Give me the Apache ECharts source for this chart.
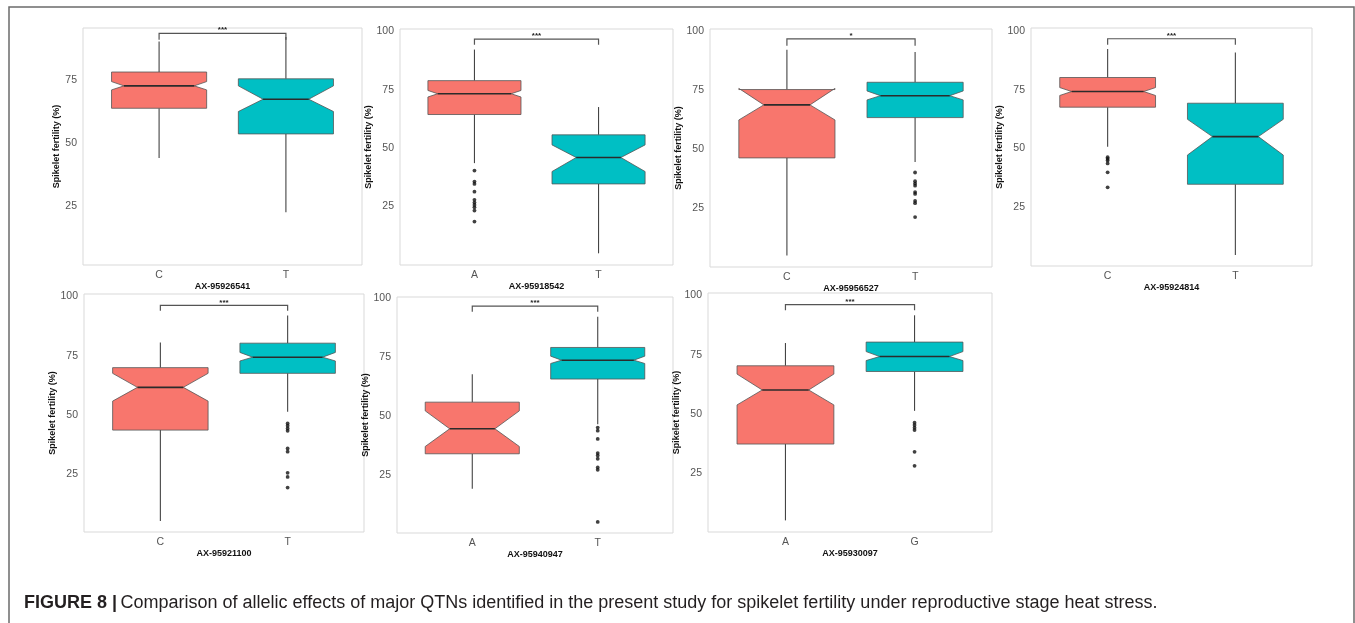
<!DOCTYPE html>
<html><head><meta charset="utf-8">
<script src="https://cdn.jsdelivr.net/npm/echarts@6/dist/echarts.min.js"></script>
<style>html,body{margin:0;padding:0;background:#fff;}#c{width:1355px;height:623px;}</style>
</head><body><div id="c"></div>
<script>
// ---------- DATA ----------
const markerNames = ['AX-95926541','AX-95918542','AX-95956527','AX-95924814','AX-95921100','AX-95940947','AX-95930097'];
const alleleLabels = [['C','T'],['A','T'],['C','T'],['C','T'],['C','T'],['A','T'],['A','G']];
const yTickValues = [[25,50,75],[25,50,75,100],[25,50,75,100],[25,50,75,100],[25,50,75,100],[25,50,75,100],[25,50,75,100]];
const yAxisMin = [1.4, 0, 0, -0.4, 0.8, 0.3, 0.3];
const yAxisMax = [95.6, 101, 101, 101.5, 101, 100.4, 101.1];
// box stats: [whiskerLow, Q1, notchLow, median, notchHigh, Q3, whiskerHigh]
const boxesAX95926541 = [[43.9,63.7,71.0,72.6,74.3,78.1,90.2],[22.4,53.5,62.4,67.3,72.6,75.4,92.0]];
const boxesAX95918542 = [[43.6,64.4,71.9,73.3,74.7,78.9,92.2],[5.0,34.7,40.0,46.0,51.4,55.7,67.6]];
const boxesAX95956527 = [[4.9,46.3,62.4,68.8,75.8,75.3,92.2],[44.6,63.4,70.9,72.7,74.7,78.4,91.2]];
const boxesAX95924814 = [[50.7,67.6,72.6,74.3,76.0,80.3,92.5],[4.3,34.6,47.1,55.0,62.4,69.3,91.0]];
const boxesAX95921100 = [[5.4,43.7,55.9,61.7,67.6,70.0,80.6],[51.4,67.6,72.8,74.4,76.4,80.3,92.0]];
const boxesAX95940947 = [[19.1,33.9,37.0,44.5,52.1,55.8,67.6],[46.4,65.6,72.2,73.6,75.3,79.0,92.0]];
const boxesAX95930097 = [[5.2,37.4,53.9,60.2,66.9,70.4,80.0],[51.4,68.0,72.6,74.3,76.4,80.4,91.7]];
// outliers per allele
const outliersAX95926541 = [[],[]];
const outliersAX95918542 = [[40.4,35.7,34.7,31.4,27.9,26.7,25.7,24.7,23.3,18.6],[]];
const outliersAX95956527 = [[],[40.1,36.4,35.4,34.5,31.8,31.0,28.0,27.1,21.2]];
const outliersAX95924814 = [[46.2,45.5,44.8,43.5,39.7,33.3],[]];
const outliersAX95921100 = [[],[46.5,45.5,44.4,43.4,36.0,34.6,25.7,24.0,19.5]];
const outliersAX95940947 = [[],[45.0,43.7,40.2,34.2,33.2,31.8,28.1,27.1,5.0]];
const outliersAX95930097 = [[],[46.4,45.4,44.3,43.3,34.1,28.2]];
// significance brackets: [bracketY, legTipY]
const bracketLevels = [[93.5,90.9],[96.7,94.3],[96.8,93.9],[96.9,94.3],[96.2,94.0],[96.5,94.1],[96.2,93.8]];
const sigLabels = ['***','***','*','***','***','***','***'];
const captionBold = 'FIGURE 8 |';
const captionText = 'Comparison of allelic effects of major QTNs identified in the present study for spikelet fertility under reproductive stage heat stress.';

const allBoxes = [boxesAX95926541,boxesAX95918542,boxesAX95956527,boxesAX95924814,boxesAX95921100,boxesAX95940947,boxesAX95930097];
const allOutliers = [outliersAX95926541,outliersAX95918542,outliersAX95956527,outliersAX95924814,outliersAX95921100,outliersAX95940947,outliersAX95930097];

// ---------- LAYOUT / STYLE ----------
const gridRects = [
  {left:83, top:28, width:279, height:237},
  {left:400, top:29, width:273, height:236},
  {left:710, top:29, width:282, height:238},
  {left:1031, top:28, width:281, height:238},
  {left:84, top:294, width:280, height:238},
  {left:397, top:297, width:276, height:236},
  {left:708, top:293, width:284, height:239}
];
const FONT = "'Liberation Sans', Arial, sans-serif";
const FILLS = ['#F8766D', '#00BFC4'];
const HALF_W = 0.375;

function renderBox(params, api) {
  const x = api.value(0);
  const wl = api.value(1), q1 = api.value(2), nl = api.value(3), md = api.value(4), nh = api.value(5), q3 = api.value(6), wh = api.value(7);
  const ci = api.value(8);
  const L = api.coord([x - HALF_W, md])[0], R = api.coord([x + HALF_W, md])[0], C = api.coord([x, md])[0];
  const Y = v => api.coord([x, v])[1];
  const W = R - L;
  const hPx = Math.abs(Y(nl) - Y(nh)) / 2;
  const ind = Math.min(0.26 * W, 3 * hPx);
  const pts = [[L,Y(q3)],[L,Y(nh)],[L+ind,Y(md)],[L,Y(nl)],[L,Y(q1)],[R,Y(q1)],[R,Y(nl)],[R-ind,Y(md)],[R,Y(nh)],[R,Y(q3)]];
  return {type:'group', children:[
    {type:'line', shape:{x1:C,y1:Y(q3),x2:C,y2:Y(wh)}, style:{stroke:'#444', lineWidth:1.1}},
    {type:'line', shape:{x1:C,y1:Y(q1),x2:C,y2:Y(wl)}, style:{stroke:'#444', lineWidth:1.1}},
    {type:'polygon', shape:{points:pts}, style:{fill:FILLS[ci], stroke:'#555', lineWidth:0.8}},
    {type:'line', shape:{x1:L+ind,y1:Y(md),x2:R-ind,y2:Y(md)}, style:{stroke:'#2b2b2b', lineWidth:1.6}}
  ]};
}

function makeBracketRenderer(label) {
  return function (params, api) {
    const a = api.coord([api.value(0), api.value(2)]);
    const b = api.coord([api.value(1), api.value(2)]);
    const ta = api.coord([api.value(0), api.value(3)]);
    const tb = api.coord([api.value(1), api.value(3)]);
    return {type:'group', children:[
      {type:'polyline', shape:{points:[[ta[0],ta[1]],[a[0],a[1]],[b[0],b[1]],[tb[0],tb[1]]]}, style:{stroke:'#555', lineWidth:1.2, fill:null}},
      {type:'text', style:{text:label, x:(a[0]+b[0])/2, y:a[1]+1, align:'center', verticalAlign:'bottom', font:'bold 8px ' + FONT, fill:'#222'}}
    ]};
  };
}

const grids = [], xAxes = [], yAxes = [], series = [];
markerNames.forEach((name, i) => {
  const g = gridRects[i];
  grids.push(Object.assign({show:true, borderColor:'#d9d9d9', borderWidth:1, backgroundColor:'#fff', containLabel:false}, g));
  const labs = alleleLabels[i];
  xAxes.push({gridIndex:i, type:'value', min:0.4, max:2.6,
    axisLine:{show:false}, axisTick:{show:false}, splitLine:{show:false},
    axisLabel:{customValues:[1,2], formatter: v => labs[Math.round(v)-1], color:'#555', fontFamily:FONT, fontSize:10.5, margin:5},
    name:name, nameLocation:'middle', nameGap:16,
    nameTextStyle:{fontFamily:FONT, fontWeight:'bold', fontSize:9, color:'#111'}});
  yAxes.push({gridIndex:i, type:'value', min:yAxisMin[i], max:yAxisMax[i],
    axisLine:{show:false}, axisTick:{show:false}, splitLine:{show:false},
    axisLabel:{customValues:yTickValues[i], color:'#555', fontFamily:FONT, fontSize:10.5, margin:6},
    name:'Spikelet fertility (%)', nameLocation:'middle', nameGap:22,
    nameTextStyle:{fontFamily:FONT, fontWeight:'bold', fontSize:9, color:'#111'}});
  series.push({type:'custom', xAxisIndex:i, yAxisIndex:i, silent:true, clip:false, z:2,
    data: allBoxes[i].map((b, k) => [k+1].concat(b).concat([k])),
    encode:{x:0, y:[1,2,3,4,5,6,7]}, renderItem: renderBox});
  const pts = [];
  allOutliers[i].forEach((arr, k) => arr.forEach(v => pts.push([k+1, v])));
  series.push({type:'scatter', xAxisIndex:i, yAxisIndex:i, silent:true, z:3,
    symbol:'circle', symbolSize:3.8, itemStyle:{color:'#111'}, data:pts});
  series.push({type:'custom', xAxisIndex:i, yAxisIndex:i, silent:true, clip:false, z:4,
    data:[[1, 2, bracketLevels[i][0], bracketLevels[i][1]]],
    encode:{x:[0,1], y:[2,3]}, renderItem: makeBracketRenderer(sigLabels[i])});
});

const chart = echarts.init(document.getElementById('c'), null, {renderer:'canvas'});
chart.setOption({
  animation:false,
  backgroundColor:'#fff',
  grid:grids, xAxis:xAxes, yAxis:yAxes, series:series,
  graphic:[
    {type:'rect', shape:{x:9, y:7, width:1345, height:640}, style:{fill:null, stroke:'#6b6b6b', lineWidth:1.5}, silent:true},
    {type:'text', left:24, top:594, silent:true,
      style:{text:'{b|' + captionBold + '} {r|' + captionText + '}',
        rich:{b:{fontFamily:FONT, fontWeight:'bold', fontSize:18, fill:'#231f20'},
              r:{fontFamily:FONT, fontSize:18, fill:'#231f20'}}}}
  ]
});
</script></body></html>
